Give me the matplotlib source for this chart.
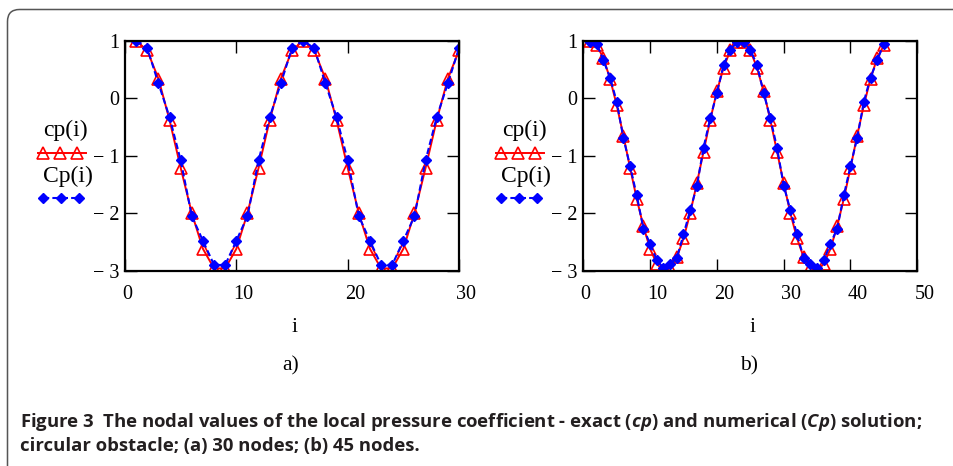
import matplotlib
matplotlib.use('Agg')
import matplotlib.pyplot as plt
from matplotlib.patches import FancyBboxPatch
from matplotlib.transforms import IdentityTransform, ScaledTranslation

W, H, DPI = 954, 466, 100

# ---- data: exact (cp) and numerical (Cp) nodal values ----
i_30 = list(range(1, 31))
cp_30 = [1.00, 0.83, 0.34, -0.38, -1.21, -2.00, -2.62, -2.96, -2.96, -2.62,
         -2.00, -1.21, -0.38, 0.34, 0.83, 1.00, 0.83, 0.34, -0.38, -1.21,
         -2.00, -2.62, -2.96, -2.96, -2.62, -2.00, -1.21, -0.38, 0.34, 0.83]
Cp_30 = [1.00, 0.87, 0.26, -0.33, -1.08, -2.05, -2.48, -2.90, -2.90, -2.48,
         -2.05, -1.08, -0.33, 0.26, 0.87, 1.00, 0.87, 0.26, -0.33, -1.08,
         -2.05, -2.48, -2.90, -2.90, -2.48, -2.05, -1.08, -0.33, 0.26, 0.87]

i_45 = list(range(1, 46))
cp_45 = [1.00, 0.92, 0.70, 0.34, -0.12, -0.65, -1.21, -1.75, -2.23, -2.62,
         -2.88, -3.00, -2.96, -2.77, -2.44, -2.00, -1.48, -0.93, -0.38, 0.12,
         0.53, 0.83, 0.98, 0.98, 0.83, 0.53, 0.12, -0.38, -0.93, -1.48,
         -2.00, -2.44, -2.77, -2.96, -3.00, -2.88, -2.62, -2.23, -1.75, -1.21,
         -0.65, -0.12, 0.34, 0.70, 0.92]
Cp_45 = [0.98, 0.95, 0.66, 0.36, -0.06, -0.69, -1.18, -1.69, -2.27, -2.53,
         -2.82, -2.95, -2.88, -2.78, -2.37, -1.95, -1.53, -0.86, -0.35, 0.09,
         0.58, 0.84, 0.98, 0.98, 0.84, 0.58, 0.09, -0.35, -0.86, -1.52,
         -1.95, -2.37, -2.78, -2.88, -2.95, -2.82, -2.53, -2.27, -1.69, -1.18,
         -0.69, -0.06, 0.36, 0.66, 0.95]

xticks_a = [0, 10, 20, 30]
xticks_b = [0, 10, 20, 30, 40, 50]
yticks = [1, 0, -1, -2, -3]
ytick_labels = ['1', '0', '\u2212 1', '\u2212 2', '\u2212 3']

caption_1 = ('Figure 3  The nodal values of the local pressure coefficient - '
             'exact ($\\mathit{cp}$) and numerical ($\\mathit{Cp}$) solution;')
caption_2 = 'circular obstacle; (a) 30 nodes; (b) 45 nodes.'

plt.rcParams['font.family'] = ['Liberation Serif', 'DejaVu Serif']
plt.rcParams['mathtext.fontset'] = 'custom'
plt.rcParams['mathtext.it'] = 'Open Sans:bold:italic'
plt.rcParams['mathtext.rm'] = 'Open Sans:bold'

FS = 14.5
LEG_FS = 17
RED, BLUE = '#ff0000', '#0000ff'

fig = plt.figure(figsize=(W / DPI, H / DPI), dpi=DPI)


def px_axes(left, top, right, bottom):
    return [left / W, 1 - bottom / H, (right - left) / W, (bottom - top) / H]


def draw_panel(ax, i, cp, Cp, xticks, tag):
    ax.plot(i, cp, color=RED, lw=1.4, marker='^', ms=9, mfc='none',
            mec=RED, mew=1.2)
    ax.plot(i, Cp, color=BLUE, lw=1.5, ls=(0, (3, 1.5)), marker='D', ms=5.5,
            mfc=BLUE, mec=BLUE)
    ax.set_xlim(xticks[0], xticks[-1])
    ax.set_ylim(-3, 1)
    ax.set_xticks(xticks)
    ax.set_xticklabels([str(t) for t in xticks], fontsize=FS)
    for lab in ax.get_xticklabels():
        lab.set_horizontalalignment('left')
    ax.set_yticks(yticks)
    ax.set_yticklabels(ytick_labels, fontsize=FS)
    ax.tick_params(direction='in', length=8.5, width=1.0, top=True,
                   right=True, color='black')
    ax.tick_params(axis='x', pad=10)
    ax.tick_params(axis='y', pad=4)
    for sp in ax.spines.values():
        sp.set_linewidth(1.6)

    ax.text(0.507, -0.248, 'i', transform=ax.transAxes, ha='center',
            va='center', fontsize=FS + 1)
    ax.text(0.497, -0.413, tag, transform=ax.transAxes, ha='center',
            va='center', fontsize=FS + 1)

    # legend to the left of the axes: name above its key
    kw = dict(transform=ax.transAxes, clip_on=False)
    ax.text(-0.177, 0.609, 'cp(i)', ha='center', va='center', fontsize=LEG_FS, **kw)
    ax.plot([-0.260, -0.117], [0.513, 0.513], color=RED, lw=1.4, **kw)
    ax.plot([-0.2455, -0.1946, -0.1437], [0.513] * 3, ls='none', marker='^',
            ms=9, mfc='none', mec=RED, mew=1.2, **kw)
    ax.text(-0.171, 0.409, 'Cp(i)', ha='center', va='center', fontsize=LEG_FS, **kw)
    ax.plot([-0.2455, -0.1375], [0.317, 0.317], color=BLUE, lw=1.5,
            ls=(0, (3, 1.5)), marker='D', ms=5.5, markevery=[0, 1], **kw)
    ax.plot([-0.1915], [0.317], ls='none', marker='D', ms=5.5, color=BLUE, **kw)


ax_a = fig.add_axes(px_axes(125, 40.7, 459, 270.7))
draw_panel(ax_a, i_30, cp_30, Cp_30, xticks_a, 'a)')
ax_b = fig.add_axes(px_axes(583.3, 40.7, 917.3, 270.7))
draw_panel(ax_b, i_45, cp_45, Cp_45, xticks_b, 'b)')

# shift x tick labels a little to the left of their ticks
for ax in (ax_a, ax_b):
    for lab in ax.get_xticklabels():
        lab.set_transform(lab.get_transform() +
                          ScaledTranslation(-3 / DPI, 0, fig.dpi_scale_trans))

# rounded frame around the figure, open to the right and bottom
frame = FancyBboxPatch((7.5, -30), 1000, H - 9.5 + 30,
                       boxstyle='round,pad=0,rounding_size=12',
                       transform=IdentityTransform(), fill=False,
                       ec='#555555', lw=1.1)
fig.add_artist(frame)

cap_kw = dict(family='Open Sans', weight='bold', fontsize=13.3, va='center',
              ha='left', color='#231f20')
fig.text(20 / W, 1 - 422 / H, caption_1, **cap_kw)
fig.text(20 / W, 1 - 446 / H, caption_2, **cap_kw)

fig.savefig('out.png', dpi=DPI)
